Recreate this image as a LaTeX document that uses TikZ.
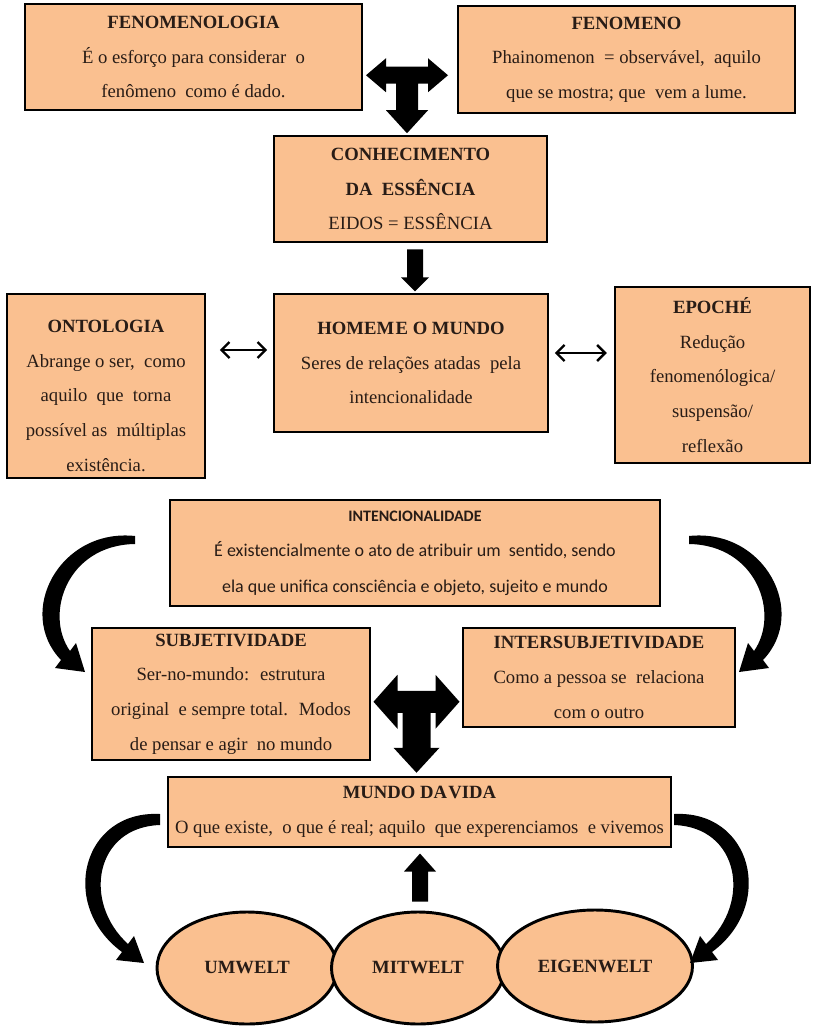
\documentclass[tikz,border=0pt]{standalone}
\usepackage{fontspec}
\setmainfont{LiberationSerif}[Extension=.ttf, UprightFont=*-Regular, BoldFont=*-Bold]
\newfontfamily\calibriFont{Carlito}
\usetikzlibrary{shapes.geometric, arrows.meta, calc}
\definecolor{boxFill}{RGB}{250,192,144}
\definecolor{boxText}{RGB}{40,28,22}

\begin{document}
\begin{tikzpicture}[x=0.75pt, y=-0.75pt,
        box/.style={draw=black, line width=2.2pt, fill=boxFill, text=boxText,
            align=center, inner sep=0pt, font=\fontsize{14}{26}\selectfont},
        world/.style={box, ellipse},
        doubleArrow/.style={{Straight Barb[length=6pt,width=12pt]}-{Straight Barb[length=6pt,width=12pt]},
            line width=1.8pt}]
    \useasboundingbox (0,0) rectangle (813,1027);

    % upper boxes
    \node[box, minimum width=252.75pt, minimum height=79.5pt] (fenomenologia) at (193.5,57)
        {\textbf{FENOMENOLOGIA}\\É o esforço para considerar~ o\\fenômeno~ como é dado.};
    \node[box, minimum width=252.75pt, minimum height=80.25pt] (fenomeno) at (626.5,59.5)
        {\textbf{FENOMENO}\\Phainomenon~ = observável,~ aquilo\\que se mostra; que~ vem a lume.};
    \node[box, minimum width=204.75pt, minimum height=79.5pt] (essencia) at (410.5,189)
        {\textbf{CONHECIMENTO}\\\textbf{DA~ ESSÊNCIA}\\EIDOS = ESSÊNCIA};
    \node[box, minimum width=148.5pt, minimum height=138pt] (ontologia) at (106,386)
        {\rule{0pt}{24pt}\textbf{ONTOLOGIA}\\Abrange o ser,~ como\\aquilo~ que~ torna\\possível as~ múltiplas\\existência.};
    \node[box, minimum width=205.5pt, minimum height=103.5pt] (homem) at (411,363)
        {\textbf{HOMEM\hspace{0.08em}E O MUNDO}\\Seres de relações atadas~ pela\\intencionalidade};
    \node[box, minimum width=146.25pt, minimum height=132pt] (epoche) at (712.5,375)
        {\textbf{EPOCHÉ}\\Redução\\fenomenólogica/\\suspensão/\\reflexão};

    % lower boxes
    \node[box, minimum width=367.5pt, minimum height=79.5pt,
        font=\calibriFont\fontsize{13.5}{26.5}\selectfont] (intencao) at (415,553)
        {{\fontsize{12}{26.5}\selectfont\textbf{INTENCIONALIDADE}}\\É existencialmente o ato de atribuir um~ sentido, sendo\\ela que unifica consciência e objeto, sujeito e mundo};
    \node[box, minimum width=208.5pt, minimum height=99pt] (subjetividade) at (231,694)
        {\textbf{SUBJETIVIDADE}\\Ser-no-mundo:~ estrutura\\original~ e sempre total.~ Modos\\de pensar e agir~ no mundo};
    \node[box, minimum width=204pt, minimum height=74.25pt] (intersubjetividade) at (599,677.5)
        {\textbf{INTERSUBJETIVIDADE}\\Como a pessoa se~ relaciona\\com o outro};
    \node[box, minimum width=377.25pt, minimum height=52.5pt] (mundo) at (419.5,812)
        {\textbf{MUNDO DA\hspace{0.08em}VIDA}\\O que existe,~ o que é real; aquilo~ que experenciamos~ e vivemos};

    \node[world, minimum width=135pt, minimum height=84pt] (umwelt) at (247,968) {\textbf{UMWELT}};
    \node[world, minimum width=129.75pt, minimum height=84pt] (mitwelt) at (418,968) {\textbf{MITWELT}};
    \node[world, minimum width=146.25pt, minimum height=84pt] (eigenwelt) at (595,966) {\textbf{EIGENWELT}};

    % block arrows
    \fill[shift={($(fenomenologia.east)!0.5!(fenomeno.west)+(-3,17)$)}]
        (-41,0) -- (-21,-17) -- (-21,-8.5) -- (21,-8.5) -- (21,-17) -- (41,0) -- (21,17) -- (21,8.5)
        -- (11,8.5) -- (11,35) -- (21,35) -- (0,58) -- (-21,35) -- (-11,35) -- (-11,8.5)
        -- (-21,8.5) -- (-21,17) -- cycle;
    \fill[shift={($(essencia.south)+(4.5,6)$)}]
        (-8,0) -- (8,0) -- (8,28) -- (14,28) -- (0,42) -- (-14,28) -- (-8,28) -- cycle;
    \fill[shift={($(subjetividade.east)!0.5!(intersubjetividade.west)+(0,16)$)}]
        (-43,0) -- (-19,-27) -- (-19,-11) -- (19,-11) -- (19,-27) -- (43,0) -- (19,27) -- (19,11)
        -- (14,11) -- (14,46) -- (23,46) -- (0,71) -- (-23,46) -- (-14,46) -- (-14,11)
        -- (-19,11) -- (-19,27) -- cycle;
    \fill[shift={($(mitwelt.north)+(2,-9)$)}]
        (-8,0) -- (-8,-30) -- (-16,-30) -- (0,-48) -- (16,-30) -- (8,-30) -- (8,0) -- cycle;

    % curved arrows
    \foreach \side in {1,-1} {
        \fill[shift={(412,0)}, xscale=\side]
            (-277,536) .. controls (-352,528) and (-397,612) .. (-351,660)
            -- (-357,668) -- (-327,672) -- (-336,643) -- (-342,651)
            .. controls (-368,614) and (-345,545) .. (-277,544) -- cycle;
        \fill[shift={(417,0)}, xscale=\side]
            (-257,814) .. controls (-335,810) and (-359,905) .. (-295,952)
            -- (-301,960) -- (-273,963) -- (-283,936) -- (-289,944)
            .. controls (-335,902) and (-322,827) .. (-257,825) -- cycle;
    }

    \draw[doubleArrow, shorten <=10, shorten >=4] ($(ontologia.east)+(0,-36)$) -- ($(homem.west)+(0,-13)$);
    \draw[doubleArrow, shorten <=4, shorten >=5] ($(homem.east)+(0,-10)$) -- ($(epoche.west)+(0,-22)$);
\end{tikzpicture}
\end{document}
